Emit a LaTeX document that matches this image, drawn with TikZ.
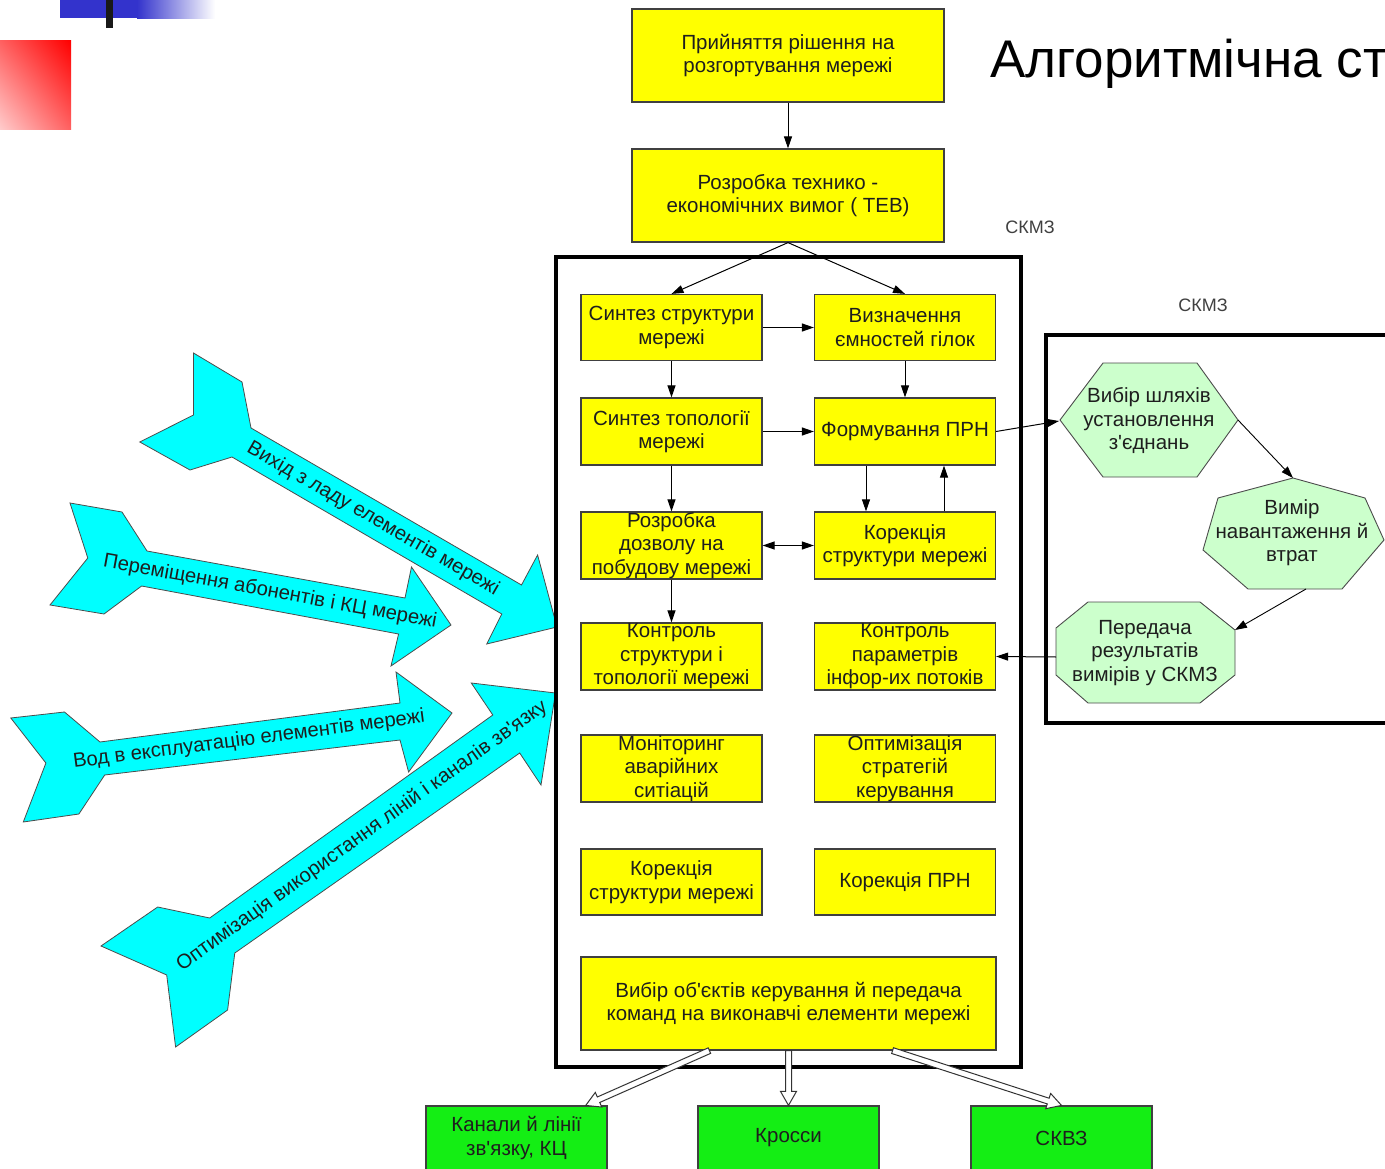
\documentclass[tikz,border=0pt]{standalone}
\usepackage{fontspec}
\setmainfont{Liberation Sans}[Ligatures=TeXOff]
\usetikzlibrary{arrows.meta,calc,shadings}

\definecolor{boxyellow}{RGB}{255,255,0}
\definecolor{boxgreen}{RGB}{20,238,20}
\definecolor{paleg}{RGB}{204,255,204}
\definecolor{aqua}{RGB}{0,255,255}
\definecolor{decoblue}{RGB}{51,51,204}
\definecolor{ink}{RGB}{30,30,30}

% white hollow arrow between two points (shaft half-width 3, head half-width 8)
\newcommand\hollowarrow[2]{%
  \path (#1) coordinate (ha-a) (#2) coordinate (ha-b);
  \path ($(ha-b)!14pt!(ha-a)$) coordinate (ha-c);
  \draw[hollow] ($(ha-a)!3pt!90:(ha-b)$) -- ($(ha-c)!3pt!-90:(ha-a)$)
    -- ($(ha-c)!8pt!-90:(ha-a)$) -- (ha-b) -- ($(ha-c)!8pt!90:(ha-a)$)
    -- ($(ha-c)!3pt!90:(ha-a)$) -- ($(ha-a)!3pt!-90:(ha-b)$) -- cycle;
}

\begin{document}
\begin{tikzpicture}[x=1pt,y=-1pt,
  txt/.style={font=\fontsize{20.5}{23.5}\selectfont, text=ink, align=center},
  ybox/.style={txt, draw=black!75, line width=1.2pt, fill=boxyellow,
    inner sep=0pt, minimum width=181pt, minimum height=66pt},
  wbox/.style={ybox, minimum width=312pt, minimum height=93pt},
  gbox/.style={txt, draw=black!75, line width=1.2pt, fill=boxgreen,
    inner sep=0pt, minimum width=181pt, minimum height=64pt},
  frame/.style={draw=black, line width=3.5pt},
  conn/.style={draw=black, line width=1pt, -{Triangle[length=12pt,width=8pt]}},
  dconn/.style={draw=black, line width=1pt,
    {Triangle[length=12pt,width=8pt]}-{Triangle[length=12pt,width=8pt]}},
  bigarrow/.style={fill=aqua, draw=black!70, line width=0.8pt, line join=miter},
  arrowtext/.style={font=\fontsize{20.2}{22}\selectfont, text=ink, inner sep=0pt},
  polyst/.style={fill=paleg, draw=black!70, line width=0.9pt},
  hollow/.style={fill=white, draw=black!80, line width=1pt, line join=miter},
  tag/.style={font=\fontsize{18}{22}\selectfont, text=black!75}
]
\useasboundingbox (0,0) rectangle (1385,1169);
\clip (0,0) rectangle (1385,1169);
\fill[white] (0,0) rectangle (1385,1169);

% corner ornament
\fill[decoblue] (60,0) rectangle (137,18);
\shade[left color=decoblue, right color=white] (137,0) rectangle (215,19);
\fill[black!90] (106,0) rectangle (113,28);
\shade[upper right=red, lower left=red!20, upper left=red!62, lower right=red!62]
  (0,41) rectangle (71,130);

% title
\node[anchor=base west, inner sep=0pt, font=\fontsize{53}{62}\selectfont, text=black]
  (title) at (990,78) {Алгоритмічна ст};

% external events entering the control system
\draw[bigarrow] (193.5,353) -- (242,382) -- (251,428) -- (521.5,585) -- (537.6,555)
  -- (557,627) -- (486.7,644) -- (501.8,614) -- (232,457) -- (190,470)
  -- (139.8,442) -- (193.5,415) -- cycle;
\node[arrowtext, rotate=-30] (ev1) at (373,519) {Вихід з ладу елементів мережі};

\draw[bigarrow] (70,503) -- (122,512) -- (147,551) -- (405,598) -- (411.5,567)
  -- (451,625) -- (391,666) -- (398.6,634) -- (141.6,586) -- (104,614)
  -- (50,605) -- (87.8,558) -- cycle;
\node[arrowtext, rotate=-10.3] (ev2) at (270,592) {Переміщення абонентів і КЦ мережі};

\draw[bigarrow] (10.8,718) -- (64.5,712) -- (100,742) -- (400,703) -- (396,672)
  -- (452,713) -- (408.6,772) -- (400,740) -- (104.7,775) -- (78.9,814)
  -- (23.3,822) -- (45.9,763) -- cycle;
\node[arrowtext, rotate=7.4] (ev3) at (249,740) {Вод в експлуатацію елементів мережі};

\draw[bigarrow] (157.7,907) -- (209.7,918) -- (492.8,715) -- (471.3,683)
  -- (555.5,693) -- (541,785) -- (519.7,753) -- (234.8,953) -- (227.6,1010)
  -- (175.6,1047) -- (166.7,975) -- (101,946) -- cycle;
\node[arrowtext, rotate=35.6] (ev4) at (362,836) {Оптимізація використання ліній і каналів зв'язку};

% frames
\draw[frame] (556,257) rectangle (1021,1067);
\draw[frame] (1046,335) rectangle (1400,723);
\node[tag] (lblmain) at (1030,227) {СКМЗ};
\node[tag] (lblside) at (1203,305) {СКМЗ};

% top blocks
\node[wbox] (decision) at (788,55.5) {Прийняття рішення на\\розгортування мережі};
\node[wbox] (teb) at (788,195.5) {Розробка технико -\\економічних вимог ( ТЕВ)};

% inner blocks
\node[ybox] (synstr) at (671.5,327.5) {Синтез структури\\мережі};
\node[ybox] (capac)  at (905,327.5)   {Визначення\\ємностей гілок};
\node[ybox, minimum height=67pt] (syntop) at (671.5,431.5) {Синтез топології\\мережі};
\node[ybox, minimum height=67pt] (prn)    at (905,431.5)   {Формування ПРН};
\node[ybox, minimum height=67pt] (permit) at (671.5,545.5) {Розробка\\дозволу на\\побудову мережі};
\node[ybox, minimum height=67pt] (corr)   at (905,545.5)   {Корекція\\структури мережі};
\node[ybox, minimum height=67pt] (ctlstr) at (671.5,656.5) {Контроль\\структури і\\топології мережі};
\node[ybox, minimum height=67pt] (ctlpar) at (905,656.5)   {Контроль\\параметрів\\інфор-их потоків};
\node[ybox, minimum height=67pt] (monit)  at (671.5,768.5) {Моніторинг\\аварійних\\ситіацій};
\node[ybox, minimum height=67pt] (optim)  at (905,768.5)   {Оптимізація\\стратегій\\керування};
\node[ybox] (corr2)   at (671.5,882) {Корекція\\структури мережі};
\node[ybox] (corrprn) at (905,882)   {Корекція ПРН};
\node[ybox, minimum width=415pt, minimum height=93pt] (select) at (788.5,1003.5)
  {Вибір об'єктів керування й передача\\команд на виконавчі елементи мережі};

% measurement subsystem
\draw[polyst] (1060,420) -- (1103,363) -- (1197,363) -- (1238,420) -- (1197,477)
  -- (1103,477) -- cycle;
\node[txt] (paths) at (1149,421) {Вибір шляхів\\установлення\\з'єднань};
\draw[polyst] (1293,478) -- (1365,498) -- (1384,540) -- (1342,589) -- (1248,589)
  -- (1203,550) -- (1218,498) -- cycle;
\node[txt] (measure) at (1292,533) {Вимір\\навантаження й\\втрат};
\draw[polyst] (1088,602) -- (1200,602) -- (1235,630) -- (1235,675) -- (1200,703)
  -- (1088,703) -- (1056,675) -- (1056,628) -- cycle;
\node[txt] (report) at (1145,653) {Передача\\результатів\\вимірів у СКМЗ};
\coordinate (hexW) at (1059,421);
\coordinate (hexE) at (1238,420);
\coordinate (heptN) at (1293,478);
\coordinate (heptS) at (1306,589);
\coordinate (octNE) at (1235,630);
\coordinate (octW) at (1056,657);

% output blocks
\node[gbox] (lines) at (516.5,1138) {Канали й лінії\\зв'язку, КЦ};
\node[gbox] (cross) at (788.5,1138) {Кросси};
\node[gbox] (skvz)  at (1061.5,1138) {СКВЗ};

% connectors
\draw[conn] (decision.south) -- (teb.north);
\draw[conn] (teb.south) -- (synstr.north);
\draw[conn] (teb.south) -- (capac.north);
\draw[conn] (synstr.east) -- (capac.west);
\draw[conn] (synstr.south) -- (syntop.north);
\draw[conn] (capac.south) -- (prn.north);
\draw[conn] (syntop.east) -- (prn.west);
\draw[conn] (syntop.south) -- (permit.north);
\draw[conn] ([xshift=-39pt]prn.south) -- ([xshift=-39pt]corr.north);
\draw[conn] ([xshift=39pt]corr.north) -- ([xshift=39pt]prn.south);
\draw[dconn] (permit.east) -- (corr.west);
\draw[conn] (permit.south) -- (ctlstr.north);
\draw[conn] (prn.east) -- (hexW);
\draw[conn, line width=0.9pt] (hexE) -- (heptN);
\draw[conn, line width=0.9pt] (heptS) -- (octNE);
\draw[conn] (octW) -- (ctlpar.east);

\hollowarrow{$(select.south west)!0.31!(select.south east)$}{$(lines.north west)!0.88!(lines.north east)$}
\hollowarrow{select.south}{cross.north}
\hollowarrow{$(select.south west)!0.75!(select.south east)$}{skvz.north}
\end{tikzpicture}
\end{document}
